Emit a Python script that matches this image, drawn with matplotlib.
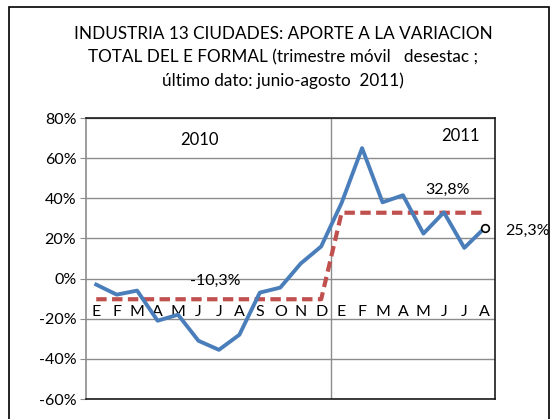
import numpy as np
import matplotlib.pyplot as plt
from matplotlib.patches import Rectangle

plt.rcParams['font.family'] = ['Lato', 'DejaVu Sans']

# datos
meses = ['E', 'F', 'M', 'A', 'M', 'J', 'J', 'A', 'S', 'O', 'N', 'D',
         'E', 'F', 'M', 'A', 'M', 'J', 'J', 'A']
aporte = [-3, -8, -6, -21, -18, -31, -35.5, -28, -7, -4.5, 7.5, 16,
          37.7, 65, 38, 41.5, 22.4, 33, 15.3, 25.3]
promedio = [-10.3] * 12 + [32.8] * 8
anios = ['2010', '2011']
yticks = [-60, -40, -20, 0, 20, 40, 60, 80]

x = np.arange(len(meses))

fig = plt.figure(figsize=(5.57, 4.19), dpi=100)
fig.patches.append(Rectangle((8.5 / 557, -0.01), 540.5 / 557, 1 - 7.5 / 419 + 0.01,
                             transform=fig.transFigure, fill=False,
                             edgecolor='black', linewidth=1.2))

ax = fig.add_axes([86 / 557, 1 - 399 / 419, 409 / 557, 281 / 419])
ax.plot(x, promedio, color='#c0504d', linewidth=3, dashes=(2.5, 1.3), zorder=3)
ax.plot(x, aporte, color='#4a7ebb', linewidth=2.8, zorder=4)
ax.plot(x[-1], aporte[-1], 'o', markersize=5.5, markerfacecolor='white',
        markeredgecolor='black', markeredgewidth=1.2, zorder=5)

ax.set_xlim(-0.5, len(meses) - 0.5)
ax.set_ylim(-60, 80)
ax.set_yticks(yticks)
ax.set_yticklabels([f'{v}%' for v in yticks], fontsize=11.5)
ax.yaxis.grid(True, color='#8c8c8c', linewidth=1)
ax.axvline(11.5, color='#8c8c8c', linewidth=1)
ax.set_xticks([])
ax.tick_params(axis='y', length=4, color='#8c8c8c', pad=3)
for s in ax.spines.values():
    s.set_color('#1a1a1a')
    s.set_linewidth(1.2)
ax.spines['left'].set_color('#8c8c8c')

# eje de meses en el 0
sec = ax.secondary_xaxis(0, transform=ax.transData)
sec.set_xticks(x)
sec.set_xticklabels(meses, fontsize=11.5)
sec.tick_params(length=0, pad=19)
sec.spines['bottom'].set_visible(False)

ax.text(5.03, 68.8, anios[0], ha='center', va='center', fontsize=12)
ax.text(17.8, 70.8, anios[1], ha='center', va='center', fontsize=12)
ax.text(5.8, -1.3, '-10,3%', ha='center', va='center', fontsize=11.5)
ax.text(17.2, 44.4, '32,8%', ha='center', va='center', fontsize=11.5)
ax.text(20.0, 24, '25,3%', ha='left', va='center', fontsize=11.5,
        clip_on=False)

fig.text(283 / 557, 1 - 57.5 / 419,
         'INDUSTRIA 13 CIUDADES: APORTE A LA VARIACION\n'
         'TOTAL DEL E FORMAL (trimestre móvil   desestac ;\n'
         'último dato: junio-agosto  2011)',
         ha='center', va='center', fontsize=12.3, linespacing=1.5)

fig.savefig('out.png', dpi=100)
